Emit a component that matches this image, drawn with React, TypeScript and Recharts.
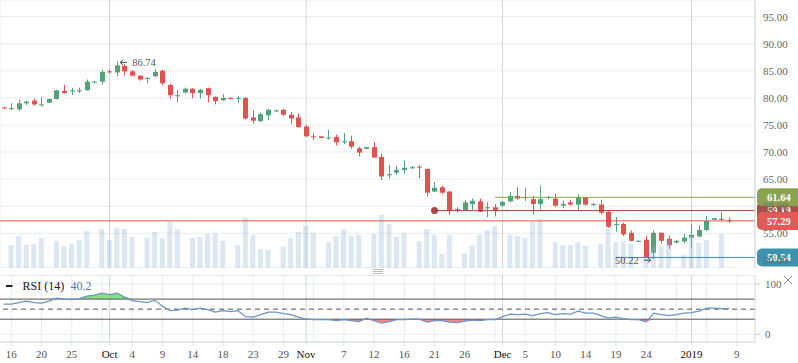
import React from 'react';
import {
  ComposedChart, Bar, Line, Area, XAxis, YAxis, CartesianGrid,
  ReferenceLine, ReferenceDot,
} from 'recharts';

const FONT = "'Liberation Serif', 'Times New Roman', serif";
const GREEN = '#53a27b';
const RED = '#e05350';

// ---- data (daily candles, Sep 2018 - Jan 2019) ----
const OPEN = [
  78.25, 78.0, 77.9, 79.0, 79.5, 78.7, 79.1, 79.8, 81.3, 81.2,
  81.2, 81.4, 82.9, 83.0, 84.9, 84.7, 85.9, 84.9, 84.1, 83.5,
  84.0, 85.0, 82.4, 80.4, 81.0, 81.7, 80.9, 81.8, 80.2, 79.6,
  80.0, 79.9, 80.0, 76.4, 75.7, 76.8, 77.6, 77.8, 76.9, 76.4,
  74.7, 72.9, 72.9, 72.6, 72.8, 71.8, 72.0, 70.7, 70.6, 70.9,
  69.1, 65.7, 66.2, 66.7, 67.0, 67.3, 66.9, 62.7, 63.5, 62.7,
  59.4, 59.3, 60.4, 60.9, 59.6, 59.8, 60.1, 60.9, 61.9, 61.5,
  61.3, 60.4, 61.5, 61.4, 60.1, 60.7, 60.3, 61.7, 60.2, 60.3,
  58.95, 56.5, 56.7, 55.1, 53.5, 53.8, 51.4, 55.1, 54.0, 53.3,
  53.5, 54.2, 54.4, 55.6, 57.5, 57.7, 57.4,
];
const HIGH = [
  78.35, 79.0, 79.7, 79.5, 79.9, 80.1, 79.9, 81.5, 82.4, 81.8,
  81.9, 83.4, 83.1, 85.2, 85.3, 86.74, 86.2, 85.1, 84.2, 83.8,
  85.3, 85.2, 82.6, 81.5, 81.9, 81.8, 81.7, 81.9, 80.25, 80.7,
  80.1, 80.4, 80.1, 77.7, 77.3, 78.0, 77.8, 78.0, 77.4, 77.1,
  75.0, 73.5, 72.95, 74.1, 73.2, 73.5, 73.0, 71.0, 70.95, 71.9,
  69.7, 67.6, 67.4, 68.4, 67.4, 67.6, 66.95, 64.5, 63.8, 62.8,
  59.8, 61.2, 61.4, 61.4, 60.8, 60.4, 60.9, 62.6, 63.5, 63.4,
  61.9, 63.8, 61.9, 62.3, 61.0, 61.2, 62.2, 61.75, 60.6, 61.2,
  59.2, 58.0, 56.9, 55.5, 53.8, 54.5, 55.5, 55.15, 54.6, 53.8,
  54.9, 56.7, 56.5, 58.2, 57.85, 58.9, 57.9,
];
const LOW = [
  78.0, 77.8, 77.6, 78.7, 78.6, 78.4, 79.05, 79.7, 80.8, 80.5,
  80.9, 81.35, 82.7, 82.5, 84.5, 84.0, 84.1, 84.0, 83.2, 82.7,
  83.8, 82.3, 79.9, 79.2, 80.8, 79.9, 79.9, 79.2, 78.8, 79.4,
  79.7, 79.1, 76.0, 75.3, 75.6, 75.9, 77.4, 76.6, 75.2, 74.5,
  72.8, 72.2, 72.5, 72.3, 71.2, 71.5, 70.6, 69.2, 70.55, 68.95,
  64.8, 65.1, 65.8, 66.0, 66.9, 65.2, 61.8, 62.65, 62.3, 58.4,
  58.8, 59.2, 59.3, 58.9, 58.0, 58.1, 59.9, 60.7, 61.2, 61.0,
  58.5, 59.4, 61.3, 59.9, 59.6, 60.1, 59.3, 60.1, 60.1, 58.5,
  56.0, 55.3, 54.5, 53.5, 53.4, 50.5, 50.22, 53.1, 52.1, 53.1,
  53.1, 52.3, 54.2, 55.4, 57.45, 57.3, 57.0,
];
const CLOSE = [
  78.05, 78.1, 79.0, 79.3, 78.8, 78.8, 79.8, 81.4, 80.9, 81.4,
  81.4, 83.0, 83.0, 84.8, 84.8, 86.0, 84.9, 84.1, 83.4, 83.7,
  84.8, 82.7, 80.5, 80.5, 81.7, 80.9, 81.5, 80.5, 79.4, 80.0,
  79.8, 80.0, 76.2, 75.8, 77.0, 77.8, 77.7, 76.9, 76.2, 74.6,
  72.9, 72.8, 72.6, 72.7, 71.8, 72.0, 71.0, 69.9, 70.9, 69.0,
  65.5, 65.9, 66.7, 67.1, 67.2, 67.2, 62.5, 63.4, 62.5, 59.2,
  59.5, 60.7, 61.0, 59.0, 59.8, 59.2, 60.8, 61.9, 61.4, 61.7,
  60.4, 61.3, 61.7, 60.1, 60.4, 60.3, 61.7, 60.3, 60.4, 58.8,
  56.2, 56.7, 54.8, 53.6, 53.6, 50.6, 55.1, 53.6, 52.8, 53.6,
  54.2, 54.7, 55.6, 57.3, 57.8, 57.6, 57.29,
];
const VOLUME = [
  0.5, 23, 32, 23, 24, 30, 0.5, 27, 22, 24,
  28, 37, 0.5, 39, 28, 40, 39, 31, 0.7, 30,
  36, 30, 46, 39, 0.5, 30, 31, 34, 35, 27,
  0.5, 23, 50, 33, 19, 18, 0.5, 21, 30, 36,
  42, 35, 0.5, 26, 32, 39, 32, 33, 0.7, 34,
  53, 44, 31, 35, 0.5, 27, 39, 33, 14, 33,
  0.5, 15, 22, 33, 38, 42, 0.5, 33, 32, 30,
  46, 49, 0.5, 26, 23, 23, 26, 22, 0.5, 24,
  39, 26, 27, 24, 0.5, 10, 22, 22, 29, 0.5,
  13, 32, 25, 28, 0.5, 34, 0.5,
];
const RSI = [
  60, 60, 63, 66, 63, 62, 66, 72, 70, 69,
  71, 76, 78, 82, 79, 82, 74, 67, 65, 63,
  68, 56, 47, 48, 52, 49, 52, 49, 44, 47,
  45, 47, 35, 34, 39, 44, 44, 41, 39, 34,
  30, 29, 29, 29, 27, 29, 27, 25, 32, 27,
  22, 25, 29, 29, 30, 30, 24, 27, 27, 24,
  23, 26, 28, 27, 29, 29, 35, 40, 39, 40,
  37, 41, 43, 39, 41, 40, 46, 42, 42, 37,
  32, 34, 31, 29, 29, 25, 42, 39, 37, 39,
  42, 43, 46, 52, 52, 51, 51,
];

const PRICE_TICKS = [50, 55, 60, 65, 70, 75, 80, 85, 90, 95];
const GRID_IDX = [1, 5, 9, 13, 17, 21, 25, 29, 33, 37, 41, 45, 49, 53, 57, 61, 65, 69, 73, 77, 81, 85, 89, 93, 97];
const MONTH_IDX = [14, 40, 66, 91];
const TICK_IDX = [1, 5, 9, 14, 17, 21, 25, 29, 33, 37, 40, 45, 49, 53, 57, 61, 66, 69, 73, 77, 81, 85, 91, 97];
const TICK_LABELS = ['16', '20', '25', 'Oct', '4', '9', '14', '18', '23', '29', 'Nov', '7', '12', '16', '21', '26', 'Dec', '5', '10', '14', '19', '24', '2019', '9'];
const MONTH_LABELS = ['Oct', 'Nov', 'Dec', '2019'];

const LAST_PRICE = 57.29;
const PREV_LEVEL = { start: 57, value: 59.19 };
const HIGH_LEVEL = { start: 65, value: 61.64 };
const LOW_LEVEL = { start: 81, value: 50.54 };
const HIGH_MARK = { idx: 15, value: 86.74 };
const LOW_MARK = { idx: 86, value: 50.22 };
const RSI_NOW = 40.2;

const X_DOMAIN: [number, number] = [-0.5, 99.4];

const rows = OPEN.map((o, i) => ({
  i, o, h: HIGH[i], l: LOW[i], c: CLOSE[i], v: VOLUME[i], rsi: RSI[i],
}));

function Candle(props: any) {
  const { x, y, width, height, payload } = props;
  if (x == null || y == null || !payload) return null;
  const { o, h, l, c } = payload;
  const span = h - l || 1;
  const py = (p: number) => y + ((h - p) / span) * height;
  const cx = Math.round(x + width / 2) + 0.5;
  const color = c >= o ? GREEN : RED;
  const top = py(Math.max(o, c));
  const bot = py(Math.min(o, c));
  return (
    <g>
      <line x1={cx} x2={cx} y1={y} y2={y + height} stroke={color} strokeWidth={1} />
      <rect x={cx - 2.5} y={top} width={5} height={Math.max(1, bot - top)} fill={color} />
    </g>
  );
}

function makeTag(text: string, color: string) {
  return (props: any) => {
    const vb = props.viewBox || {};
    const x = (vb.x || 0) + (vb.width || 0) + 2;
    const y = vb.y || 0;
    return (
      <g>
        <rect x={x} y={y - 9} width={52} height={18} rx={5} fill={color} />
        <text x={x + 10} y={y} dy="0.36em" fill="#fff" fontSize={10.5} fontWeight="bold" fontFamily={FONT}>{text}</text>
      </g>
    );
  };
}

// extreme-value annotation with a small arrow pointing at the candle
function makeMark(text: string, side: 'right' | 'left') {
  return (props: any) => {
    const vb = props.viewBox || {};
    const cx = (vb.x || 0) + (vb.width || 0) / 2;
    const cy = (vb.y || 0) + (vb.height || 0) / 2 + 1;
    const s = side === 'right' ? 1 : -1;
    const tip = cx + s * 3;
    const tail = cx + s * 10;
    return (
      <g>
        <path d={`M${tail},${cy} L${tip},${cy} M${tip + s * 3},${cy - 2.5} L${tip},${cy} L${tip + s * 3},${cy + 2.5}`}
          stroke="#444" strokeWidth={1} fill="none" />
        <text x={cx + s * 15} y={cy} dy="0.36em" textAnchor={side === 'right' ? 'start' : 'end'}
          fill="#555" fontSize={10.5} fontFamily={FONT}>{text}</text>
      </g>
    );
  };
}

function XTick(props: any) {
  const { x, y, payload } = props;
  const k = TICK_IDX.indexOf(payload.value);
  const label = k >= 0 ? TICK_LABELS[k] : '';
  const month = MONTH_LABELS.includes(label);
  return (
    <text x={x} y={y} dy="0.71em" textAnchor="middle" fontSize={11} fontFamily={FONT} fill={month ? '#111' : '#555'}>
      {label}
    </text>
  );
}

export default function App() {
  return (
    <div style={{ position: 'relative', width: 798, height: 363, background: '#fff', fontFamily: FONT, overflow: 'hidden' }}>
      <style>{'body{margin:0}'}</style>
      <div style={{ position: 'absolute', left: 0, top: 0 }}>
        <ComposedChart width={798} height={268} data={rows} margin={{ top: 0, right: 0, bottom: 0, left: 0 }}>
          <CartesianGrid stroke="#e9ecef" />
          <XAxis dataKey="i" type="number" domain={X_DOMAIN} ticks={GRID_IDX} allowDataOverflow
            tick={false} tickLine={false} height={0} axisLine={{ stroke: '#d3d7db' }} />
          <XAxis xAxisId="v" dataKey="i" type="number" domain={X_DOMAIN} allowDataOverflow hide />
          <YAxis orientation="right" width={43} domain={[48.59, 98.08]} ticks={PRICE_TICKS} allowDataOverflow
            tickFormatter={(v: number) => v.toFixed(2)} tickLine={false} axisLine={{ stroke: '#d3d7db' }}
            tick={{ fill: '#666', fontSize: 11, fontFamily: FONT }} />
          <YAxis yAxisId="vol" domain={[0, 268]} hide />
          {MONTH_IDX.map((m) => (
            <ReferenceLine key={'m' + m} x={m} stroke="#d0d4d8" zIndex={-50} />
          ))}
          <Bar dataKey={(d: any) => [d.l, d.h]} barSize={5} isAnimationActive={false} shape={(p: any) => <Candle {...p} />} />
          <Bar xAxisId="v" yAxisId="vol" dataKey="v" barSize={5} fill="#8ab0d6" fillOpacity={0.3} isAnimationActive={false} />
          <ReferenceLine segment={[{ x: PREV_LEVEL.start, y: PREV_LEVEL.value }, { x: X_DOMAIN[1], y: PREV_LEVEL.value }]}
            stroke="#a83f3f" label={makeTag(PREV_LEVEL.value.toFixed(2), '#b04a48')} />
          <ReferenceLine segment={[{ x: HIGH_LEVEL.start, y: HIGH_LEVEL.value }, { x: X_DOMAIN[1], y: HIGH_LEVEL.value }]}
            stroke="#8da650" label={makeTag(HIGH_LEVEL.value.toFixed(2), '#8aa34f')} />
          <ReferenceLine y={LAST_PRICE} stroke="#e0524f" label={makeTag(LAST_PRICE.toFixed(2), '#e05a58')} />
          <ReferenceLine segment={[{ x: LOW_LEVEL.start, y: LOW_LEVEL.value }, { x: X_DOMAIN[1], y: LOW_LEVEL.value }]}
            stroke="#3d8eaa" label={makeTag(LOW_LEVEL.value.toFixed(2), '#3d93ad')} />
          <ReferenceDot x={PREV_LEVEL.start} y={PREV_LEVEL.value} r={3.5} fill="#b04545" stroke="none" />
          <ReferenceDot x={HIGH_MARK.idx} y={HIGH_MARK.value} r={0} fill="none" stroke="none"
            label={makeMark(HIGH_MARK.value.toFixed(2), 'right')} />
          <ReferenceDot x={LOW_MARK.idx} y={LOW_MARK.value} r={0} fill="none" stroke="none"
            label={makeMark(LOW_MARK.value.toFixed(2), 'left')} />
        </ComposedChart>
      </div>
      <div style={{ position: 'absolute', left: 0, top: 275 }}>
        <ComposedChart width={798} height={88} data={rows} margin={{ top: 0, right: 0, bottom: 0, left: 0 }}>
          <CartesianGrid stroke="#e9ecef" vertical={false} />
          <XAxis dataKey="i" type="number" domain={X_DOMAIN} ticks={TICK_IDX} interval={0} allowDataOverflow
            height={21} tickSize={4} tickMargin={4} tickLine={{ stroke: '#dde0e3' }} axisLine={{ stroke: '#d3d7db' }}
            tick={(p: any) => <XTick {...p} />} />
          <YAxis orientation="right" width={43} domain={[-15.4, 118]} ticks={[0, 100]} allowDataOverflow
            tickSize={5} tickMargin={5} tickLine={{ stroke: '#ccc' }} axisLine={{ stroke: '#d3d7db' }}
            tick={{ fill: '#666', fontSize: 11, fontFamily: FONT }} />
          {GRID_IDX.map((g) => (
            <ReferenceLine key={'g' + g} x={g} stroke="#e9ecef" zIndex={-50} />
          ))}
          {MONTH_IDX.map((m) => (
            <ReferenceLine key={'rm' + m} x={m} stroke="#d0d4d8" zIndex={-50} />
          ))}
          <ReferenceLine y={118} stroke="#d3d7db" />
          <Area dataKey={(d: any) => [70, Math.max(70, d.rsi)]} type="linear" stroke="none" fill="#86e086" fillOpacity={1} isAnimationActive={false} />
          <Area dataKey={(d: any) => [Math.min(30, d.rsi), 30]} type="linear" stroke="none" fill="#f28b8b" fillOpacity={1} isAnimationActive={false} />
          <ReferenceLine y={70} stroke="#555" />
          <ReferenceLine y={50} stroke="#555" strokeDasharray="5 4" />
          <ReferenceLine y={30} stroke="#555" />
          <Line dataKey="rsi" type="linear" stroke="#6d93c7" strokeWidth={1.2} dot={false} isAnimationActive={false} />
        </ComposedChart>
      </div>
      <svg width={798} height={363} style={{ position: 'absolute', left: 0, top: 0, pointerEvents: 'none' }}>
        <line x1={6} x2={12.5} y1={286} y2={286} stroke="#222" strokeWidth={2} />
        <text x={22.5} y={290} fontSize={12} fontFamily={FONT} fill="#222">RSI (14)</text>
        <text x={70.5} y={290} fontSize={12} fontFamily={FONT} fill="#4a7ab8">{RSI_NOW.toFixed(1)}</text>
        <g stroke="#bbb" strokeWidth={1}>
          <line x1={373} x2={383} y1={269.5} y2={269.5} />
          <line x1={373} x2={383} y1={271.5} y2={271.5} />
          <line x1={373} x2={383} y1={273.5} y2={273.5} />
        </g>
        <g stroke="#888" strokeWidth={1}>
          <line x1={784} x2={792} y1={276} y2={284} />
          <line x1={792} x2={784} y1={276} y2={284} />
        </g>
      </svg>
    </div>
  );
}
